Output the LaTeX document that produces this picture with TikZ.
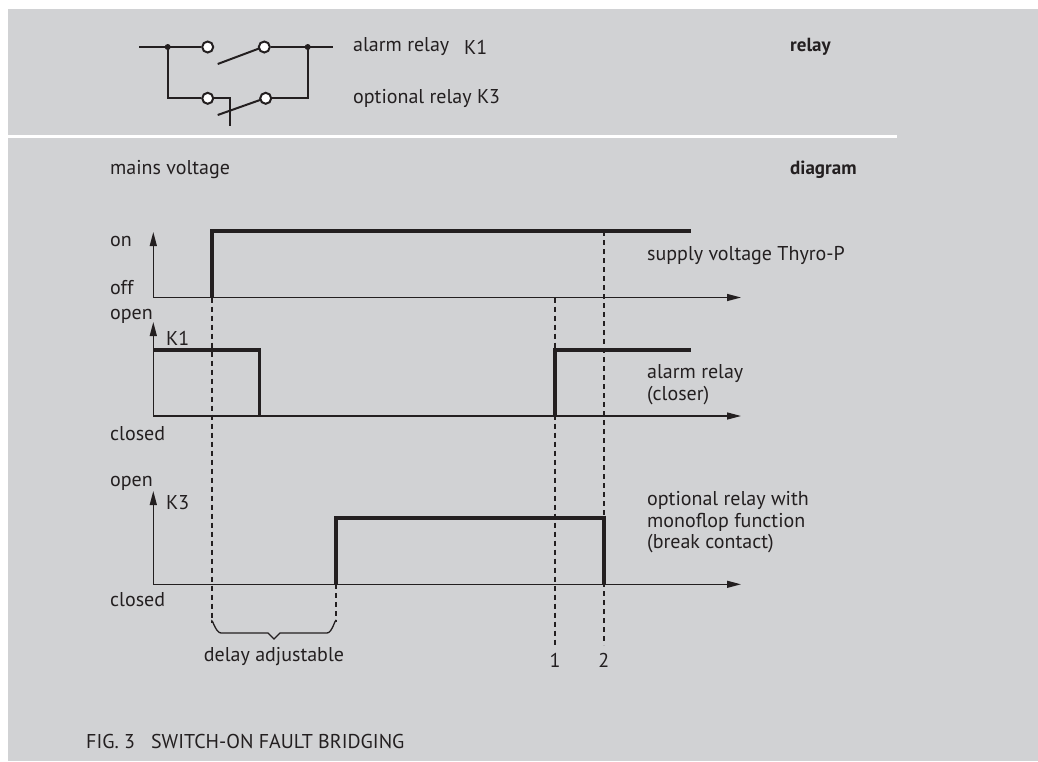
\documentclass[tikz,border=0pt]{standalone}
\usepackage{fontspec}
\setmainfont{PT Sans}
\usetikzlibrary{arrows.meta}
\definecolor{bg}{HTML}{D1D2D4}
\definecolor{ink}{HTML}{231F20}
\tikzset{
  txt/.style={anchor=west,inner sep=0pt,text=ink,font=\fontsize{20}{24}\selectfont},
  ctxt/.style={txt,anchor=center},
  btxt/.style={txt,font=\fontsize{19}{22}\selectfont\bfseries},
  axis/.style={draw=ink,line width=1.3pt,-{Triangle[length=14pt,width=7pt]}},
  sig/.style={draw=ink,line width=3.6pt,line cap=butt,line join=miter},
  dsh/.style={draw=ink,line width=1.6pt,dash pattern=on 5pt off 4pt},
  wire/.style={draw=ink,line width=2pt},
  contact/.style={circle,draw=ink,line width=2pt,fill=white,minimum size=11pt,inner sep=0pt},
  junction/.style={circle,fill=ink,minimum size=6pt,inner sep=0pt}
}
\begin{document}
\begin{tikzpicture}[x=1pt,y=-1pt]
\fill[white] (0,0) rectangle (1038,761);
\fill[bg] (8,9) rectangle (1038,761);
\useasboundingbox (0,0) rectangle (1038,761);

% ---------- relay circuit ----------
\coordinate (wl) at (139,47);
\coordinate (wr) at (333,47);
\node[junction] (j1) at (167.7,47) {};
\node[junction] (j2) at (307.7,47) {};
\node[contact] (c1) at (207.7,47) {};
\node[contact] (c2) at (264.3,47) {};
\node[contact] (c3) at (207.7,98.3) {};
\node[contact] (c4) at (265.7,98.3) {};
\coordinate (bl) at (167.7,98.3);
\coordinate (br) at (307.7,98.3);
\draw[wire] (wl) -- (j1.center) -- (c1);
\draw[wire] (c2) -- (j2.center) -- (wr);
\draw[wire] (j1.center) -- (bl) -- (c3);
\draw[wire] (j2.center) -- (br) -- (c4);
\coordinate (s1a) at (217.7,64);
\coordinate (s1b) at (259,48.5);
\draw[wire] (s1a) -- (s1b);
\coordinate (k3a) at (230,98.3);
\coordinate (k3b) at (230,126);
\draw[wire] (c3) -- (k3a) -- (k3b);
\coordinate (s2a) at (217.7,115);
\coordinate (s2b) at (260,100);
\draw[wire] (s2a) -- (s2b);

\node[txt] (tk1a) at (353,47) {alarm relay};
\node[txt] (tk1b) at (464,47) {K1};
\node[txt] (tk3) at (353,98) {optional relay K3};
\node[btxt] (trelay) at (790,47) {relay};

% separator
\coordinate (sepl) at (8,136);
\coordinate (sepr) at (897,136);
\draw[white,line width=3pt] (sepl) -- (sepr);

% ---------- diagram ----------
\node[txt] (tmains) at (110,170) {mains voltage};
\node[btxt] (tdiag) at (790,170) {diagram};

% axis 1
\coordinate (o1) at (153.3,297.5);
\coordinate (y1) at (153.3,232);
\coordinate (x1) at (741,297.5);
\draw[axis] (o1) -- (y1);
\draw[axis] (o1) -- (x1);
\node[txt] (ton) at (110,241) {on};
\node[txt] (toff) at (110,288) {off};
\draw[sig] (211.7,297.5) -- (211.7,231) -- (691,231);
\node[txt] (tsup) at (647,256) {supply voltage Thyro-P};

% axis 2
\coordinate (o2) at (153.3,416);
\coordinate (y2) at (153.3,322);
\coordinate (x2) at (741,416);
\draw[axis] (o2) -- (y2);
\draw[axis] (o2) -- (x2);
\node[txt] (topen1) at (110,316) {open};
\node[txt] (tK1) at (166,338) {K1};
\node[txt] (tclosed1) at (110,434) {closed};
\draw[sig] (153.3,350) -- (259.3,350) -- (259.3,416);
\draw[sig] (555,416) -- (555,350) -- (691,350);
\node[txt] (tal1) at (647,374) {alarm relay};
\node[txt] (tal2) at (647,396) {(closer)};

% axis 3
\coordinate (o3) at (153.3,584.3);
\coordinate (y3) at (153.3,491);
\coordinate (x3) at (741,584.3);
\draw[axis] (o3) -- (y3);
\draw[axis] (o3) -- (x3);
\node[txt] (topen2) at (110,483) {open};
\node[txt] (tK3) at (166,503) {K3};
\node[txt] (tclosed2) at (110,600) {closed};
\draw[sig] (335.7,584.3) -- (335.7,517.7) -- (603.7,517.7) -- (603.7,584.3);
\node[txt] (top1) at (647,500) {optional relay with};
\node[txt] (top2) at (647,522) {monoflop function};
\node[txt] (top3) at (647,544) {(break contact)};

% dashed markers
\draw[dsh] (211.7,297.5) -- (211.7,622);
\draw[dsh] (335.7,584.3) -- (335.7,622);
\draw[dsh] (555,297.5) -- (555,645);
\draw[dsh] (603.7,231) -- (603.7,645);

% brace
\draw[ink,line width=1.3pt] (211.7,622) to[out=90,in=180] (221,633) -- (268,633) -- (274,639) -- (280,633) -- (327,633) to[out=0,in=90] (335.7,622);
\node[ctxt] (tdelay) at (274,657) {delay adjustable};
\node[ctxt] (t1) at (555,660) {1};
\node[ctxt] (t2) at (603.7,660) {2};

% caption
\node[txt] (tcap) at (86,741) {FIG. 3\hspace{0.8em}SWITCH-ON FAULT BRIDGING};
\end{tikzpicture}
\end{document}
